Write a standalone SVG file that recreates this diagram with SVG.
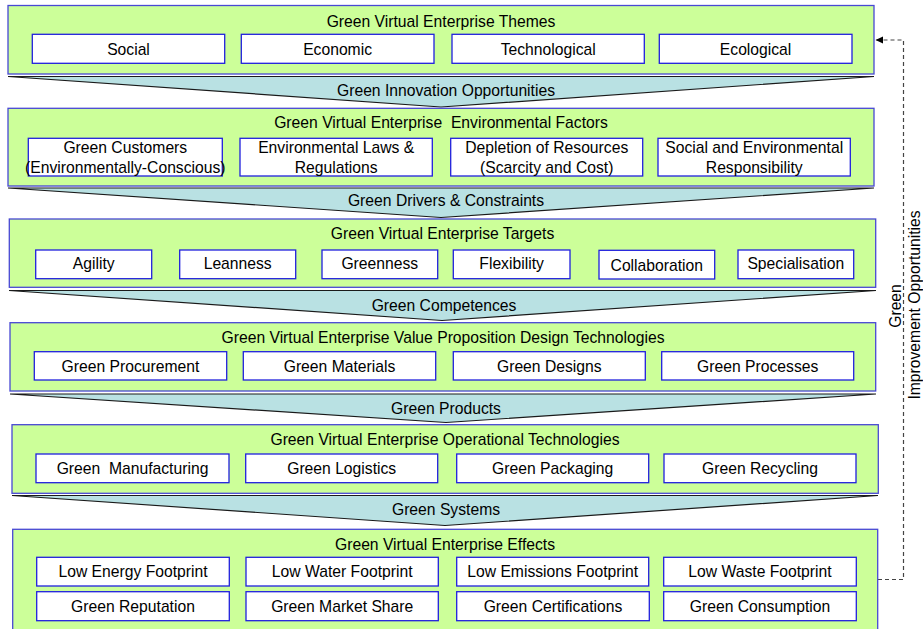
<svg xmlns="http://www.w3.org/2000/svg" width="923" height="629" viewBox="0 0 923 629">
<defs>
<style>
text{font-family:"Liberation Sans",Arial,sans-serif;font-size:15.7px;fill:#000;text-anchor:middle}
.pre{white-space:pre}
.layer{fill:#ccff99;stroke:#4848d4;stroke-width:1.3}
.item{fill:#fff;stroke:#2020dd;stroke-width:1.3}
.funnel{fill:#b9e1e3;stroke:#1a1a1a;stroke-width:1.2;stroke-linejoin:miter}
.dash{fill:none;stroke:#444;stroke-width:1.2;stroke-dasharray:4 3}
</style>
<marker id="ah" markerWidth="8" markerHeight="8" refX="7" refY="4" orient="auto" markerUnits="userSpaceOnUse">
<path d="M0,0.5 L7.5,4 L0,7.5 Z" fill="#000"/>
</marker>
</defs>
<rect width="923" height="629" fill="#fff"/>

<g id="connectors">
<polygon class="funnel" points="8,76.5 874,76.5 441,107"/>
<text x="446" y="96">Green Innovation Opportunities</text>
<polygon class="funnel" points="8,188 874,188 441,217.5"/>
<text x="446" y="206">Green Drivers &amp; Constraints</text>
<polygon class="funnel" points="9,290.5 876,290.5 442,320.5"/>
<text x="444" y="311">Green Competences</text>
<polygon class="funnel" points="10,394 876,394 446,422.5"/>
<text x="446" y="414">Green Products</text>
<polygon class="funnel" points="12,495.5 878,495.5 445,525.5"/>
<text x="446" y="515">Green Systems</text>
<path class="dash" d="M878,579.5 H903.5 V40 H876" marker-end="url(#ah)"/>
<text transform="translate(900.5,306) rotate(-90)">Green</text>
<text transform="translate(919.5,305) rotate(-90)">Improvement Opportunities</text>
</g>

<g id="themes">
<rect class="layer" x="8" y="5.5" width="866" height="68.5"/>
<text x="441" y="26.5">Green Virtual Enterprise Themes</text>
<rect class="item" x="32.3" y="34.3" width="192.4" height="29"/>
<text x="128.5" y="54.5">Social</text>
<rect class="item" x="241.3" y="34.3" width="192.7" height="29"/>
<text x="337.6" y="54.5">Economic</text>
<rect class="item" x="452" y="34.3" width="192.3" height="29"/>
<text x="548.2" y="54.5">Technological</text>
<rect class="item" x="659.3" y="34.3" width="192.7" height="29"/>
<text x="755.6" y="54.5">Ecological</text>
</g>

<g id="factors">
<rect class="layer" x="8" y="108.3" width="866" height="77.7"/>
<text class="pre" x="441" y="128" xml:space="preserve">Green Virtual Enterprise  Environmental Factors</text>
<rect class="item" x="28.3" y="138.3" width="194" height="37.7"/>
<text x="125.3" y="153.3">Green Customers</text>
<text x="125.3" y="172.7">(Environmentally-Conscious)</text>
<rect class="item" x="240" y="138.3" width="192.3" height="37.7"/>
<text x="336.2" y="153.3">Environmental Laws &amp;</text>
<text x="336.2" y="172.7">Regulations</text>
<rect class="item" x="450.7" y="138.3" width="192" height="37.7"/>
<text x="546.7" y="153.3">Depletion of Resources</text>
<text x="546.7" y="172.7">(Scarcity and Cost)</text>
<rect class="item" x="658" y="138.3" width="192.3" height="37.7"/>
<text x="754.2" y="153.3">Social and Environmental</text>
<text x="754.2" y="172.7">Responsibility</text>
</g>

<g id="targets">
<rect class="layer" x="9.3" y="219" width="866.4" height="68.3"/>
<text x="442.5" y="239.3">Green Virtual Enterprise Targets</text>
<rect class="item" x="35.7" y="250" width="116" height="28.7"/>
<text x="93.7" y="269.3">Agility</text>
<rect class="item" x="179.7" y="250" width="116" height="28.7"/>
<text x="237.7" y="269.3">Leanness</text>
<rect class="item" x="322" y="250" width="115.7" height="28.7"/>
<text x="379.8" y="269.3">Greenness</text>
<rect class="item" x="453.3" y="250" width="116.7" height="28.7"/>
<text x="511.6" y="269.3">Flexibility</text>
<rect class="item" x="599" y="250.3" width="115.7" height="28.7"/>
<text x="656.8" y="270.7">Collaboration</text>
<rect class="item" x="738" y="250" width="115.7" height="28.7"/>
<text x="795.8" y="269.3">Specialisation</text>
</g>

<g id="design">
<rect class="layer" x="10" y="322.7" width="865.7" height="68.3"/>
<text x="443" y="342.7">Green Virtual Enterprise Value Proposition Design Technologies</text>
<rect class="item" x="34.3" y="351.7" width="192.4" height="28.3"/>
<text x="130.5" y="371.7">Green Procurement</text>
<rect class="item" x="243.3" y="351.7" width="192.4" height="28.3"/>
<text x="339.5" y="371.7">Green Materials</text>
<rect class="item" x="453.3" y="351.7" width="192" height="28.3"/>
<text x="549.3" y="371.7">Green Designs</text>
<rect class="item" x="661.7" y="351.7" width="192" height="28.3"/>
<text x="757.7" y="371.7">Green Processes</text>
</g>

<g id="operational">
<rect class="layer" x="12" y="424.7" width="866.3" height="68.6"/>
<text x="445" y="445">Green Virtual Enterprise Operational Technologies</text>
<rect class="item" x="36" y="454" width="193" height="28.7"/>
<text class="pre" x="132.5" y="474" xml:space="preserve">Green  Manufacturing</text>
<rect class="item" x="245.7" y="454" width="192" height="28.7"/>
<text x="341.7" y="474">Green Logistics</text>
<rect class="item" x="456.7" y="454" width="192" height="28.7"/>
<text x="552.7" y="474">Green Packaging</text>
<rect class="item" x="664" y="454" width="192" height="28.7"/>
<text x="760" y="474">Green Recycling</text>
</g>

<g id="effects">
<rect class="layer" x="12.7" y="529.3" width="865" height="105"/>
<text x="445" y="550">Green Virtual Enterprise Effects</text>
<rect class="item" x="36.7" y="557.3" width="192.6" height="28.7"/>
<text x="133" y="577.3">Low Energy Footprint</text>
<rect class="item" x="246" y="557.3" width="192.3" height="28.7"/>
<text x="342.2" y="577.3">Low Water Footprint</text>
<rect class="item" x="456.7" y="557.3" width="192" height="28.7"/>
<text x="552.7" y="577.3">Low Emissions Footprint</text>
<rect class="item" x="663.7" y="557.3" width="192.6" height="28.7"/>
<text x="760" y="577.3">Low Waste Footprint</text>
<rect class="item" x="36.7" y="591.7" width="192.6" height="29"/>
<text x="133" y="611.7">Green Reputation</text>
<rect class="item" x="246" y="591.7" width="192.3" height="29"/>
<text x="342.2" y="611.7">Green Market Share</text>
<rect class="item" x="456.7" y="591.7" width="192.6" height="29"/>
<text x="553" y="611.7">Green Certifications</text>
<rect class="item" x="663.7" y="591.7" width="192.6" height="29"/>
<text x="760" y="611.7">Green Consumption</text>
</g>
</svg>
